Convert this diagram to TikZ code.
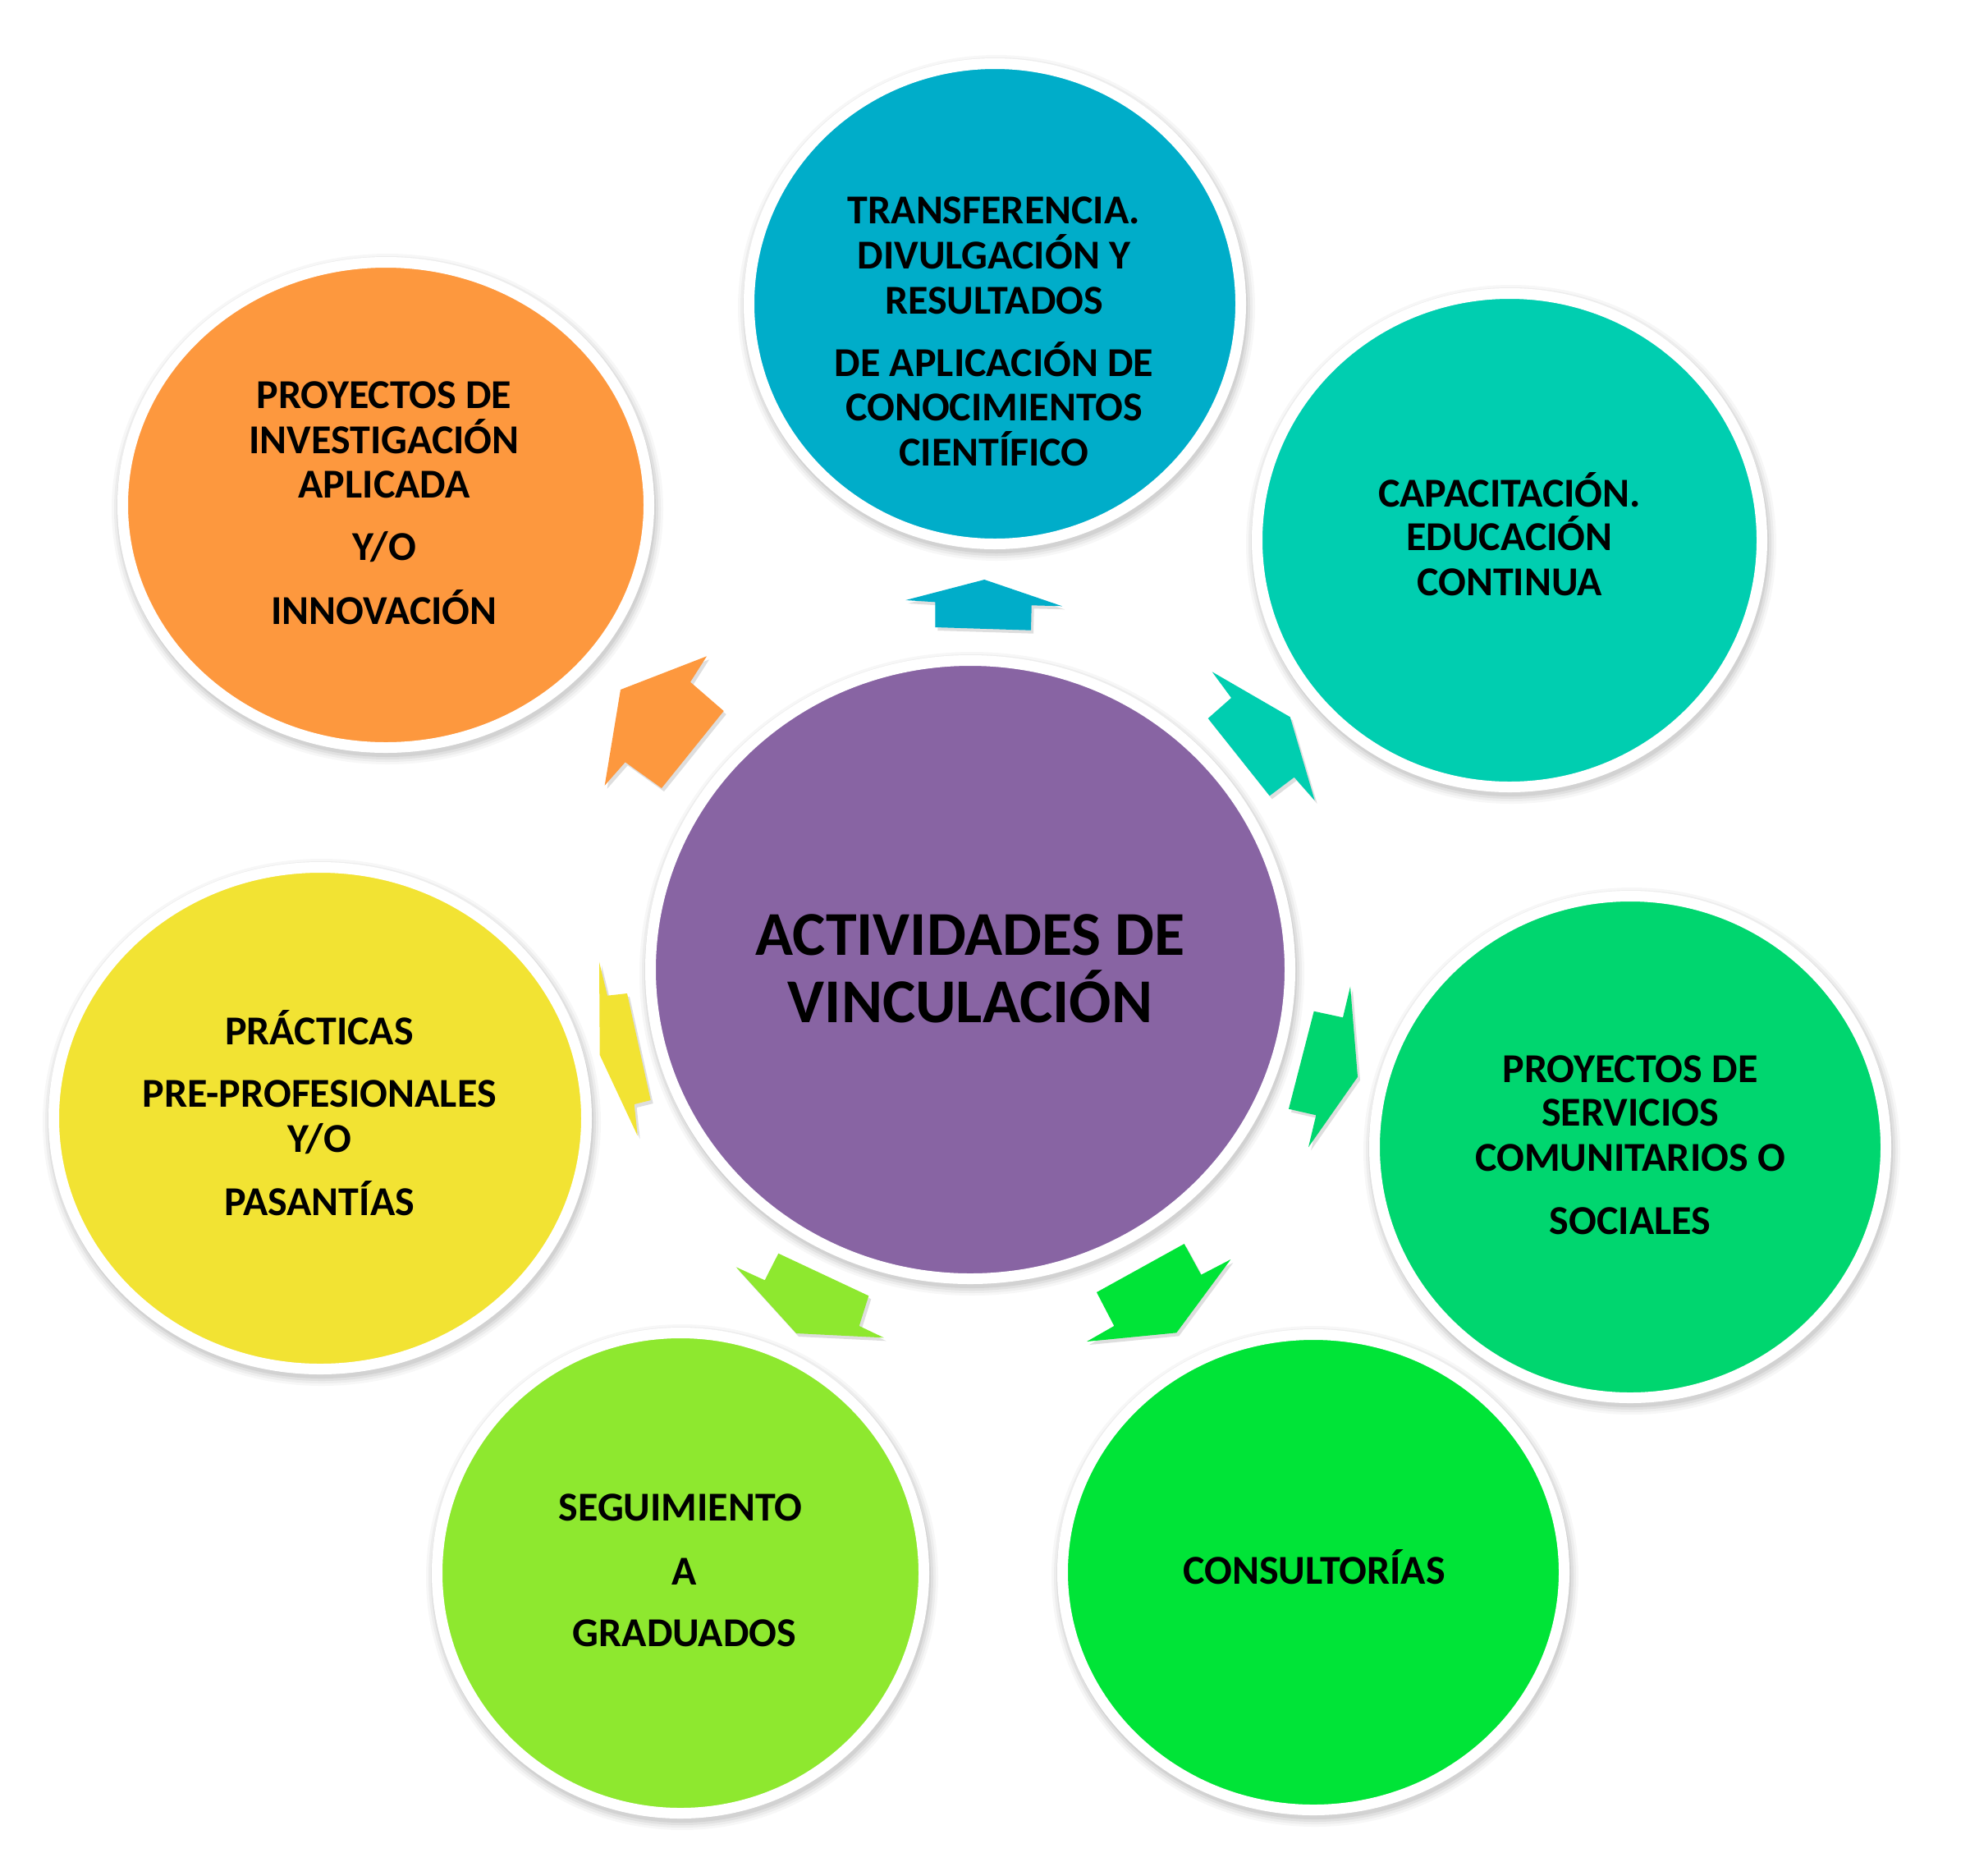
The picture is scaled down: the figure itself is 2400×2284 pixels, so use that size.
\documentclass[tikz,border=0pt]{standalone}
\usepackage{fontspec}
\setmainfont{Carlito}
\usetikzlibrary{shapes.geometric}
\definecolor{cblue}{HTML}{00ADC9}
\definecolor{corange}{HTML}{FD983E}
\definecolor{cteal}{HTML}{00CEB0}
\definecolor{cpurple}{HTML}{8864A3}
\definecolor{cyellow}{HTML}{F2E333}
\definecolor{cgreens}{HTML}{00D66F}
\definecolor{clight}{HTML}{8EE82F}
\definecolor{cgreen}{HTML}{00E437}
\newcommand{\bub}[6]{%
  \foreach \k/\o in {9/0.03,6/0.04,3/0.05,0/0.06}{%
    \fill[black,opacity=\o] (#2+2,#3+5) ellipse [x radius=#4+13+\k, y radius=#5+13+\k];}
  \node[bubble,fill=#6,minimum width=2*#4+13,minimum height=2*#5+13] (#1) at (#2,#3) {};}
\newcommand{\arr}[2]{%
  \fill[black,opacity=0.13,shift={(3,4)}] #2 -- cycle;
  \fill[#1] #2 -- cycle;}
\begin{document}
\begin{tikzpicture}[x=1pt,y=-1pt,
  bubble/.style={ellipse,draw=white,line width=13pt,inner sep=0pt,outer sep=0pt},
  lbl/.style={anchor=base,inner sep=0pt,text=black,font=\fontsize{50}{55}\selectfont\bfseries},
  ttl/.style={anchor=base,inner sep=0pt,text=black,font=\fontsize{76}{82}\selectfont\bfseries}]
\useasboundingbox[fill=white] (0,0) rectangle (2400,2284);
% circles
\bub{blue}{1212}{370}{293}{286}{cblue}
\bub{orange}{470}{615}{314}{289}{corange}
\bub{teal}{1839}{658}{301}{294}{cteal}
\bub{center}{1182}{1181}{383}{370}{cpurple}
\bub{yellow}{390}{1362}{318}{299}{cyellow}
\bub{servicios}{1986}{1397}{305}{299}{cgreens}
\bub{seguimiento}{829}{1916}{290}{286}{clight}
\bub{consult}{1600}{1915}{299}{283}{cgreen}
% arrows
\arr{cblue}{(1199.3,706) -- (1294,738.3) -- (1256.7,737.3) -- (1256,767.7) -- (1139.3,764) -- (1139.3,733.3) -- (1103.3,731)}
\arr{corange}{(861,799.3) -- (841,830.7) -- (881.7,866) -- (806,960) -- (761.7,928.3) -- (736.7,956.7) -- (756,840)}
\arr{cteal}{(1476.7,818.3) -- (1571.7,873.3) -- (1601.7,975) -- (1576.7,946.7) -- (1546.7,969.3) -- (1471.7,875) -- (1500,850)}
\arr{cgreens}{(1645,1201.7) -- (1654,1311.7) -- (1594,1397.3) -- (1603.3,1358.3) -- (1570,1350.7) -- (1600.7,1231.7) -- (1636,1239.3)}
\arr{cgreen}{(1442.7,1515) -- (1463.3,1552.7) -- (1499.3,1534) -- (1433.3,1623.3) -- (1324,1634) -- (1357.3,1615) -- (1336,1574)}
\arr{clight}{(896.7,1543.3) -- (931.7,1559.3) -- (948.3,1526.7) -- (1058.3,1578.3) -- (1046.7,1615) -- (1076.7,1629.3) -- (970,1624)}
\arr{cyellow}{(730,1171.7) -- (740,1212.7) -- (764,1210) -- (792.7,1340) -- (772.7,1345) -- (776.7,1383.3) -- (730.7,1285)}
% texts
\node[ttl] (t1) at (1182,1163.5) {ACTIVIDADES DE};
\node[ttl] (t2) at (1182,1245.7) {VINCULACIÓN};
\node[lbl] (b1) at (1211,272.5) {TRANSFERENCIA.};
\node[lbl] (b2) at (1211,327.5) {DIVULGACIÓN Y};
\node[lbl] (b3) at (1211,382.5) {RESULTADOS};
\node[lbl] (b4) at (1211,458.5) {DE APLICACIÓN DE};
\node[lbl] (b5) at (1211,512) {CONOCIMIENTOS};
\node[lbl] (b6) at (1211,567) {CIENTÍFICO};
\node[lbl] (o1) at (468,497) {PROYECTOS DE};
\node[lbl] (o2) at (468,552) {INVESTIGACIÓN};
\node[lbl] (o3) at (468,606) {APLICADA};
\node[lbl] (o4) at (468,682.5) {Y/O};
\node[lbl] (o5) at (468,760.5) {INNOVACIÓN};
\node[lbl] (e1) at (1839,617) {CAPACITACIÓN.};
\node[lbl] (e2) at (1839,670) {EDUCACIÓN};
\node[lbl] (e3) at (1839,725) {CONTINUA};
\node[lbl] (s1) at (1986,1318) {PROYECTOS DE};
\node[lbl] (s2) at (1986,1371.5) {SERVICIOS};
\node[lbl] (s3) at (1986,1426.6) {COMUNITARIOS O};
\node[lbl] (s4) at (1986,1503) {SOCIALES};
\node[lbl] (y1) at (389,1272) {PRÁCTICAS};
\node[lbl] (y2) at (389,1348.5) {PRE-PROFESIONALES};
\node[lbl] (y3) at (389,1403.6) {Y/O};
\node[lbl] (y4) at (389,1480) {PASANTÍAS};
\node[lbl] (g1) at (829,1852) {SEGUIMIENTO};
\node[lbl] (g2) at (834,1930) {A};
\node[lbl] (g3) at (834,2005) {GRADUADOS};
\node[lbl] (c1) at (1601,1929) {CONSULTORÍAS};
\end{tikzpicture}
\end{document}
